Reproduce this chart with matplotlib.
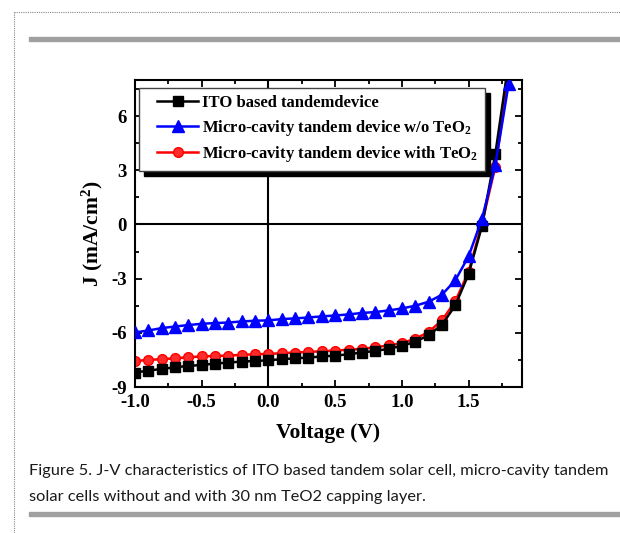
import matplotlib
matplotlib.use("Agg")
import matplotlib.pyplot as plt
from matplotlib.ticker import MultipleLocator
from matplotlib.patches import Rectangle
from matplotlib.lines import Line2D
from matplotlib.legend_handler import HandlerLine2D

plt.rcParams['font.family'] = ['Liberation Serif', 'DejaVu Serif']
plt.rcParams['mathtext.fontset'] = 'custom'
plt.rcParams['mathtext.rm'] = 'Liberation Serif:bold'
plt.rcParams['mathtext.bf'] = 'Liberation Serif:bold'
plt.rcParams['mathtext.it'] = 'Liberation Serif:bold'
plt.rcParams['mathtext.default'] = 'bf'

voltage = [-1.0, -0.9, -0.8, -0.7, -0.6, -0.5, -0.4, -0.3, -0.2, -0.1, 0.0,
           0.1, 0.2, 0.3, 0.4, 0.5, 0.6, 0.7, 0.8, 0.9, 1.0,
           1.1, 1.2, 1.3, 1.4, 1.5, 1.6, 1.7, 1.8]

j_ito = [-8.20, -8.09, -8.00, -7.91, -7.83, -7.78, -7.70, -7.65, -7.59, -7.56, -7.52,
         -7.46, -7.41, -7.37, -7.31, -7.26, -7.19, -7.09, -7.00, -6.89, -6.72,
         -6.50, -6.13, -5.56, -4.48, -2.74, -0.09, 3.90, 9.0]

j_wo = [-5.98, -5.87, -5.74, -5.65, -5.57, -5.50, -5.46, -5.43, -5.37, -5.33, -5.31,
        -5.24, -5.20, -5.15, -5.09, -5.04, -4.98, -4.90, -4.85, -4.76, -4.65,
        -4.50, -4.28, -3.89, -3.09, -1.76, 0.31, 3.28, 7.80]

j_with = [-7.56, -7.50, -7.46, -7.41, -7.35, -7.31, -7.28, -7.26, -7.22, -7.19, -7.17,
          -7.13, -7.09, -7.06, -7.02, -6.98, -6.94, -6.89, -6.80, -6.70, -6.57,
          -6.33, -5.96, -5.31, -4.26, -2.61, 0.05, 3.20, 8.2]

labels = ['ITO based tandemdevice',
          'Micro-cavity tandem device w/o TeO$_2$',
          'Micro-cavity tandem device with TeO$_2$']

xticks = [-1.0, -0.5, 0.0, 0.5, 1.0, 1.5]
xticklabels = ['-1.0', '-0.5', '0.0', '0.5', '1.0', '1.5']
yticks = [-9, -6, -3, 0, 3, 6]
yticklabels = ['-9', '-6', '-3', '0', '3', '6']

caption = ["Figure 5. J-V characteristics of ITO based tandem solar cell, micro-cavity tandem",
           "solar cells without and with 30 nm TeO2 capping layer."]

W, H = 620, 533
fig = plt.figure(figsize=(W / 100, H / 100), dpi=100)
fig.patch.set_facecolor('white')

# page decorations
fig.add_artist(Line2D([14 / W, 1], [1 - 12 / H, 1 - 12 / H], color='#888888', lw=0.8,
                      ls=(0, (1, 1)), transform=fig.transFigure))
fig.add_artist(Line2D([14 / W, 14 / W], [0, 1 - 12 / H], color='#888888', lw=0.8,
                      ls=(0, (1, 1)), transform=fig.transFigure))
fig.add_artist(Rectangle((29 / W, 1 - 41 / H), (620 - 29) / W, 4 / H, color='#a0a0a0',
                         transform=fig.transFigure))
fig.add_artist(Rectangle((29 / W, 1 - 516 / H), (620 - 29) / W, 4 / H, color='#a0a0a0',
                         transform=fig.transFigure))

ax = fig.add_axes([135 / W, 1 - 387 / H, (522 - 135) / W, (387 - 80) / H])

ax.axhline(0, color='black', lw=1.5, zorder=1)
ax.axvline(0, color='black', lw=1.5, zorder=1)

ax.plot(voltage, j_ito, color='black', lw=1.8, marker='s', ms=6.5, mfc='black',
        mec='black', label=labels[0], zorder=3)
ax.plot(voltage, j_wo, color='blue', lw=1.8, marker='^', ms=8, mfc='blue',
        mec='blue', label=labels[1], zorder=4)
ax.plot(voltage, j_with, color='red', lw=1.8, marker='o', ms=7, mfc='#ff2a2a',
        mec='red', label=labels[2], zorder=2)

ax.set_xlim(-1.0, 1.9)
ax.set_ylim(-9, 8)
ax.set_xticks(xticks)
ax.set_xticklabels(xticklabels)
ax.set_yticks(yticks)
ax.set_yticklabels(yticklabels)
ax.xaxis.set_minor_locator(MultipleLocator(0.25))
ax.yaxis.set_minor_locator(MultipleLocator(1.5))
ax.tick_params(which='both', direction='in', top=True, right=True, width=1.3)
ax.tick_params(which='major', length=5, labelsize=13.5)
ax.tick_params(axis='x', which='major', pad=5)
ax.tick_params(axis='y', which='major', pad=6)
ax.tick_params(which='minor', length=3)
for lab in ax.get_xticklabels() + ax.get_yticklabels():
    lab.set_fontweight('bold')
for s in ax.spines.values():
    s.set_linewidth(1.5)

ax.set_xlabel('Voltage (V)', fontsize=15.5, fontweight='bold', labelpad=9)
ax.set_ylabel('J (mA/cm$^2$)', fontsize=15.5, fontweight='bold', labelpad=4)

fs = 12.0
hmap = {l: HandlerLine2D(xpad=0.65) for l in ax.get_lines()}
leg = ax.legend(loc='upper left', bbox_to_anchor=(0.011, 0.974),
                prop={'weight': 'bold', 'size': fs}, frameon=True, fancybox=False,
                edgecolor='#444444', framealpha=1, borderpad=0.42, labelspacing=0.4,
                handlelength=3.1, handletextpad=0.25, borderaxespad=0.0,
                handler_map=hmap)
leg.get_frame().set_linewidth(1.0)
leg.set_zorder(6)

for i, line in enumerate(caption):
    fig.text(29 / W, 1 - (471 + 26 * i) / H, line, family=['Lato', 'DejaVu Sans'],
             fontsize=11.8, va='center', ha='left', color='#1a1a1a')

# black drop shadow of the legend, offset by 5 px to lower right
fig.canvas.draw()
bb = leg.get_window_extent().transformed(ax.transAxes.inverted())
dx = 5 / (522 - 135)
dy = 5 / (387 - 80)
ax.add_patch(Rectangle((bb.x0 + dx, bb.y0 - dy), bb.width, bb.height, color='black',
                       transform=ax.transAxes, zorder=5.9, clip_on=False))

fig.savefig('out.png', dpi=100, facecolor='white')
